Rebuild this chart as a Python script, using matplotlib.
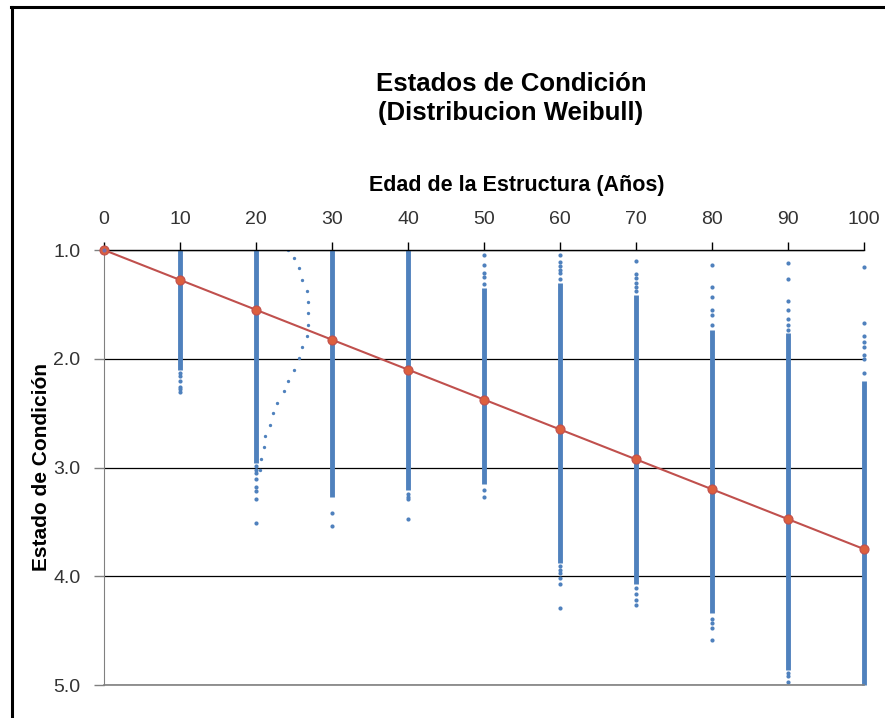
import matplotlib
matplotlib.use("Agg")
import matplotlib.pyplot as plt
from matplotlib.lines import Line2D

plt.rcParams['font.family'] = ['Liberation Sans', 'DejaVu Sans']

# edades y linea de condicion media
edades = [0, 10, 20, 30, 40, 50, 60, 70, 80, 90, 100]
condicion_media = [1.0, 1.275, 1.55, 1.825, 2.1, 2.375, 2.65, 2.925, 3.2, 3.475, 3.75]

# columnas de simulacion: tramo denso por edad
col_edades = [10, 20, 30, 40, 50, 60, 70, 80, 90, 100]
denso_inicio = [1.0, 1.0, 1.0, 1.0, 1.35, 1.30, 1.41, 1.74, 1.76, 2.20]
denso_fin = [2.10, 2.96, 3.27, 3.21, 3.15, 3.88, 4.07, 4.34, 4.86, 5.0]

# puntos sueltos fuera del tramo denso
sueltos = [
    [2.13, 2.16, 2.20, 2.26, 2.28, 2.31],
    [2.99, 3.02, 3.05, 3.11, 3.18, 3.22, 3.29, 3.51],
    [3.42, 3.54],
    [3.24, 3.27, 3.29, 3.47],
    [1.05, 1.14, 1.21, 1.25, 1.31, 3.21, 3.27],
    [1.05, 1.11, 1.15, 1.18, 1.21, 1.27, 3.91, 3.94, 3.97, 4.02, 4.07, 4.29],
    [1.10, 1.22, 1.26, 1.30, 1.34, 1.38, 4.11, 4.16, 4.22, 4.26],
    [1.14, 1.34, 1.43, 1.55, 1.60, 1.69, 4.39, 4.43, 4.48, 4.59],
    [1.12, 1.27, 1.47, 1.55, 1.63, 1.69, 1.74, 4.89, 4.92, 4.97],
    [1.16, 1.67, 1.79, 1.85, 1.89, 1.97, 2.00, 2.13],
]

# curva de densidad Weibull dibujada junto a los 20 años
curva_edad = [24.2, 25.0, 25.7, 26.1, 26.7, 26.8, 26.9, 26.8, 26.7, 26.1, 25.7,
              25.0, 24.2, 23.7, 22.8, 22.2, 21.9, 21.2, 21.0, 20.7, 20.5]
curva_estado = [1.0, 1.07, 1.17, 1.28, 1.38, 1.48, 1.58, 1.69, 1.79, 1.89, 1.99,
                2.10, 2.20, 2.30, 2.41, 2.50, 2.61, 2.71, 2.81, 2.92, 3.02]

azul = "#4F81BD"
rojo = "#C0504D"

fig = plt.figure(figsize=(8.85, 7.18), dpi=100)
ax = fig.add_axes([104 / 885, 1 - 685 / 718, 760 / 885, 435 / 718])

ax.vlines(col_edades, denso_inicio, denso_fin, color=azul, lw=3.5, zorder=2, clip_on=False)
for x, ys in zip(col_edades, sueltos):
    ax.plot([x] * len(ys), ys, "o", color=azul, ms=3.0, mew=0, zorder=2, clip_on=False)
ax.plot(curva_edad, curva_estado, "o", color=azul, ms=2.4, mew=0, zorder=2)

ax.plot(edades, condicion_media, "-o", color=rojo, lw=1.5, ms=6.5,
        mfc="#DC5F3E", mec=rojo, mew=0.8, zorder=3, clip_on=False)
ax.plot([0], [1.0], "o", color="#7A6EA8", ms=3, mew=0, zorder=4, clip_on=False)

ax.set_xlim(0, 100)
ax.set_ylim(5.0, 1.0)
ax.set_xticks(edades)
ax.set_yticks([1.0, 2.0, 3.0, 4.0, 5.0])
ax.set_yticklabels(["1.0", "2.0", "3.0", "4.0", "5.0"])

ax.xaxis.tick_top()
ax.tick_params(axis="x", direction="out", length=6, width=1, color="black",
               labelsize=14, labelcolor="#333333", pad=10)
ax.tick_params(axis="y", direction="out", length=7, width=1, color="#808080",
               labelsize=14, labelcolor="#333333", pad=10)

ax.yaxis.grid(True, color="black", lw=0.9)
ax.set_axisbelow(True)
ax.spines["right"].set_visible(False)
ax.spines["top"].set_color("black")
ax.spines["top"].set_linewidth(1.0)
ax.spines["left"].set_color("#808080")
ax.spines["bottom"].set_color("#808080")
ax.spines["bottom"].set_linewidth(1.2)

fig.text(511 / 885, 1 - 98.5 / 718, "Estados de Condición\n(Distribucion Weibull)",
         ha="center", va="center", fontsize=18.5, fontweight="bold", linespacing=1.28)
fig.text(517 / 885, 1 - 186 / 718, "Edad de la Estructura (Años)",
         ha="center", va="center", fontsize=15.5, fontweight="bold")
fig.text(42 / 885, 1 - 467 / 718, "Estado de Condición", rotation=90,
         ha="center", va="center", fontsize=15, fontweight="bold")

# marco del grafico (solo se ven lados izquierdo y superior)
fig.add_artist(Line2D([11.5 / 885, 11.5 / 885], [0, 1 - 7.3 / 718],
                      transform=fig.transFigure, color="black", lw=2.2))
fig.add_artist(Line2D([10.5 / 885, 1], [1 - 7.3 / 718, 1 - 7.3 / 718],
                      transform=fig.transFigure, color="black", lw=2.2))

fig.savefig("out.png", dpi=100)
